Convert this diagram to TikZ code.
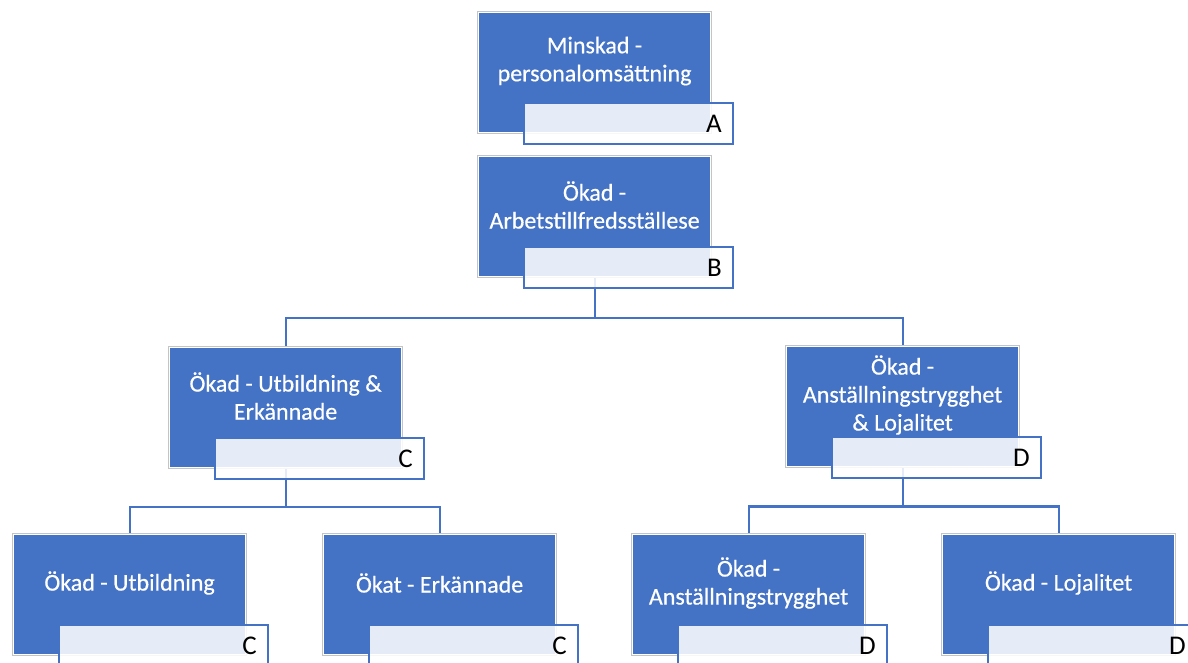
\documentclass[tikz,border=0pt]{standalone}
\usepackage{fontspec}
\setmainfont{Carlito}
\usetikzlibrary{calc, positioning, backgrounds}

\definecolor{unitblue}{HTML}{4472C4}
\definecolor{rimgray}{HTML}{C4C4C4}

\tikzset{
  unit/.style={anchor=north west, minimum width=232, minimum height=120, inner sep=0pt,
    fill=unitblue, draw=white, line width=1.2pt, preaction={draw=rimgray, line width=2.8pt}},
  unittext/.style={text=white, align=center, font=\fontsize{24}{28}\selectfont\addfontfeature{FakeBold=0.5}},
  tag/.style={anchor=north west, draw=unitblue, line width=1.6pt, fill=white, fill opacity=0.87,
    text opacity=1, text width=187pt, align=right, minimum height=41, inner xsep=11pt, inner ysep=0pt,
    font=\fontsize{27}{28}\selectfont},
  link/.style={draw=unitblue, line width=2.2pt}
}

\begin{document}
\begin{tikzpicture}[x=1pt, y=-1pt]
\useasboundingbox (0,0) rectangle (1188,663);
\clip (0,0) rectangle (1188,663);

% Boxes with their letter tags
\foreach \n/\x/\y/\t/\l in {
  a/478/12/{Minskad -\\personalomsättning}/A,
  b/478/156/{Ökad -\\Arbetstillfredsställese}/B,
  c/169/347/{Ökad - Utbildning \&\\Erkännade}/C,
  d/786/346/{Ökad -\\Anställningstrygghet\\\& Lojalitet}/D,
  e1/13/534/{Ökad - Utbildning}/C,
  e2/323/534/{Ökat - Erkännade}/C,
  e3/632/534/{Ökad -\\Anställningstrygghet}/D,
  e4/942/534/{Ökad - Lojalitet}/D} {
  \node[unit] (\n) at (\x,\y) {};
  \node[unittext] (\n-txt) at ([yshift=-49pt]\n.north) {\t};
  \node[tag] (\n-tag) at ([xshift=45pt,yshift=31pt]\n.south west) {\l};
}

% Connectors
\begin{scope}[on background layer]
\foreach \p/\c/\d in {b/c/d, c/e1/e2, d/e3/e4} {
  \coordinate (\p-mid) at ($(\p-tag.south)!0.5!(\c.north)$);
  \draw[link] (\p.south) |- (\c.north |- \p-mid) -- (\c.north);
  \draw[link] (\p.south) |- (\d.north |- \p-mid) -- (\d.north);
}
\end{scope}

\end{tikzpicture}
\end{document}
